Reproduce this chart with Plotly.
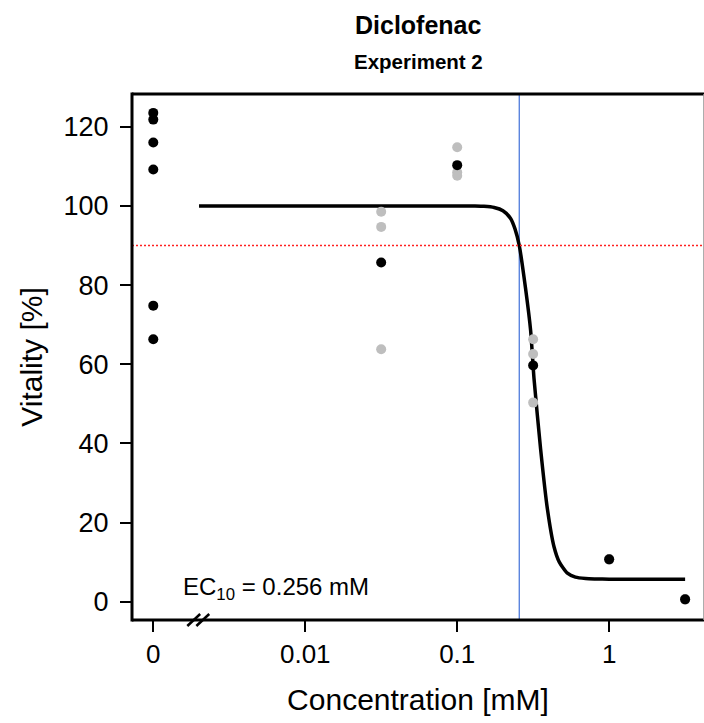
import plotly.graph_objects as go

# ---- data ----
zero_pos = 0.001          # display position of the control (0 mM) group on the log axis
control_y = [123.5, 121.8, 116.0, 109.2, 74.8, 66.3]

dose_levels = [0.0316, 0.1, 0.316, 1.0, 3.16]
rep_x = [0.0316, 0.0316, 0.0316, 0.1, 0.1, 0.1, 0.316, 0.316, 0.316, 1.0, 1.0, 1.0, 3.16, 3.16, 3.16]
rep_y = [98.5, 94.7, 63.8, 114.8, 108.5, 107.6, 66.3, 62.6, 50.3, 10.8, 10.6, 10.7, 0.7, 0.5, 0.6]
mean_y = [85.7, 110.3, 59.7, 10.7, 0.6]

curve_x = [0.002, 0.01, 0.05, 0.1, 0.13, 0.15, 0.175, 0.2, 0.224, 0.24, 0.256, 0.282, 0.304,
           0.32, 0.354, 0.392, 0.4335, 0.47, 0.531, 0.6, 0.7, 0.8, 1.0, 2.0, 3.16]
curve_y = [100, 100, 100, 100, 99.97, 99.9, 99.6, 98.8, 96.9, 94.2, 90, 79, 68.6,
           56.5, 38.5, 23.5, 13.9, 10.0, 7.2, 6.2, 5.85, 5.75, 5.7, 5.7, 5.7]

ec10 = 0.256
threshold = 90

x_tickvals = [zero_pos, 0.01, 0.1, 1]
x_ticktext = ["0", "0.01", "0.1", "1"]
y_tickvals = [0, 20, 40, 60, 80, 100, 120]

FONT = "Liberation Sans, Arial, sans-serif"

fig = go.Figure()
fig.add_trace(go.Scatter(x=curve_x, y=curve_y, mode="lines",
                         line=dict(color="black", width=3.5, shape="spline", smoothing=0.6),
                         showlegend=False, hoverinfo="skip"))
fig.add_trace(go.Scatter(x=rep_x, y=rep_y, mode="markers",
                         marker=dict(color="#BEBEBE", size=10, line=dict(width=0)),
                         showlegend=False))
fig.add_trace(go.Scatter(x=[zero_pos] * len(control_y) + dose_levels, y=control_y + mean_y,
                         mode="markers", marker=dict(color="black", size=10, line=dict(width=0)),
                         showlegend=False))

# reference lines
fig.add_shape(type="line", xref="x domain", yref="y", x0=0, x1=1, y0=threshold, y1=threshold,
              line=dict(color="#FF2020", width=1.5, dash="2px,2px"), layer="above")
fig.add_shape(type="line", xref="x", yref="y domain", x0=ec10, x1=ec10, y0=0, y1=1,
              line=dict(color="#3F6FD8", width=1.2), layer="below")

# frame (left, top, bottom) and right edge sliver
fig.add_shape(type="line", xref="paper", yref="paper", x0=0, x1=0, y0=-0.003, y1=1.003,
              line=dict(color="black", width=3))
fig.add_shape(type="line", xref="paper", yref="paper", x0=0, x1=1, y0=1, y1=1,
              line=dict(color="black", width=3))
fig.add_shape(type="line", xref="paper", yref="paper", x0=0, x1=1, y0=0, y1=0,
              line=dict(color="black", width=3))
fig.add_shape(type="line", xref="paper", yref="paper", x0=0.9995, x1=0.9995, y0=0, y1=1,
              line=dict(color="#999999", width=1))

# axis break marks
for x0 in (0.0967, 0.1125):
    fig.add_shape(type="line", xref="paper", yref="paper", x0=x0, x1=x0 + 0.0225,
                  y0=-0.0114, y1=0.0114, line=dict(color="black", width=2.5))

fig.add_annotation(xref="paper", yref="y", x=0.085, y=3.4, xanchor="left", yanchor="middle",
                   text="EC<sub>10</sub> = 0.256 mM", showarrow=False,
                   font=dict(family=FONT, size=24, color="black"))
fig.add_annotation(xref="paper", yref="paper", x=0.500, y=1.131, xanchor="center", yanchor="middle",
                   text="<b>Diclofenac</b>", showarrow=False,
                   font=dict(family=FONT, size=25, color="black"))
fig.add_annotation(xref="paper", yref="paper", x=0.500, y=1.061, xanchor="center", yanchor="middle",
                   text="<b>Experiment 2</b>", showarrow=False,
                   font=dict(family=FONT, size=20.5, color="black"))

fig.update_layout(
    width=704, height=723,
    margin=dict(l=132, r=0, t=94, b=103),
    paper_bgcolor="white", plot_bgcolor="white",
    font=dict(family=FONT, size=26, color="black"),
    xaxis=dict(type="log", range=[-3.14, 0.624], tickvals=x_tickvals, ticktext=x_ticktext,
               ticks="outside", ticklen=11, tickwidth=1.5, tickcolor="black",
               tickfont=dict(size=26), ticklabelstandoff=0,
               showgrid=False, zeroline=False, showline=False,
               title=dict(text="Concentration [mM]", font=dict(size=30), standoff=20)),
    yaxis=dict(range=[-4.62, 128.27], tickvals=y_tickvals,
               ticks="outside", ticklen=11, tickwidth=1.5, tickcolor="black",
               tickfont=dict(size=27), ticklabelstandoff=6,
               showgrid=False, zeroline=False, showline=False,
               title=dict(text="Vitality [%]", font=dict(size=30), standoff=12)),
)

fig.write_html("out.html", config={"displayModeBar": False},
               post_script="document.body.style.margin='0';window.dispatchEvent(new Event('resize'));")
